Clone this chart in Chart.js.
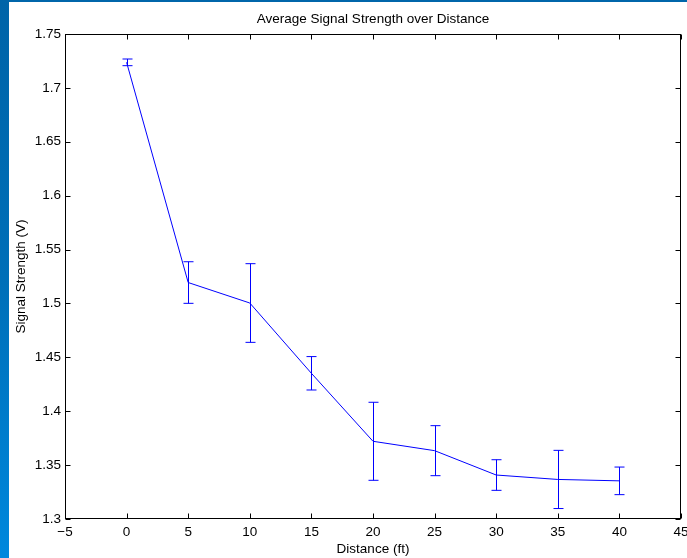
<!DOCTYPE html>
<html>
<head>
<meta charset="utf-8">
<title>Average Signal Strength over Distance</title>
<script src="https://cdn.jsdelivr.net/npm/chart.js@4.4.1/dist/chart.umd.min.js"></script>
<style>
    html, body { margin: 0; padding: 0; background: #fff; overflow: hidden; }
    #wrap { position: absolute; left: 0; top: 0; width: 687px; height: 558px; }
    #edgeTop { position: absolute; left: 0; top: 0; width: 687px; height: 2px; background: #0066aa; }
    #edgeLeft { position: absolute; left: 0; top: 0; width: 9px; height: 558px;
                background: linear-gradient(to bottom, #0064a8, #006fb8 50%, #0088dd); }
</style>
</head>
<body>
<div id="wrap"><canvas id="signalChart"></canvas></div>
<div id="edgeTop"></div>
<div id="edgeLeft"></div>
<script>
const distances = [0, 5, 10, 15, 20, 25, 30, 35, 40];
const signalMeans = [1.7237, 1.5194, 1.5004, 1.4352, 1.3721, 1.3634, 1.3408, 1.3367, 1.3354];
const signalErrors = [0.0031, 0.0193, 0.0365, 0.0155, 0.0362, 0.0232, 0.0142, 0.0270, 0.0128];
const chartTitle = 'Average Signal Strength over Distance';

const lineColor = '#0000ff';
const fontFamily = '"Liberation Sans", Arial, Helvetica, sans-serif';

Chart.defaults.color = '#000';
Chart.defaults.font.family = fontFamily;
Chart.defaults.font.size = 13.5;

// vertical error bars with small caps at each point
const errorBars = {
    id: 'errorBars',
    afterDatasetsDraw(chart) {
        const ctx = chart.ctx;
        const xs = chart.scales.x, ys = chart.scales.y;
        ctx.save();
        ctx.strokeStyle = lineColor;
        ctx.lineWidth = 1;
        distances.forEach((d, i) => {
            const x = Math.round(xs.getPixelForValue(d)) + 0.5;
            const top = ys.getPixelForValue(signalMeans[i] + signalErrors[i]);
            const bot = ys.getPixelForValue(signalMeans[i] - signalErrors[i]);
            ctx.beginPath();
            ctx.moveTo(x, top); ctx.lineTo(x, bot);
            ctx.moveTo(x - 5, top); ctx.lineTo(x + 5, top);
            ctx.moveTo(x - 5, bot); ctx.lineTo(x + 5, bot);
            ctx.stroke();
        });
        ctx.restore();
    }
};

// box around the plot with ticks pointing inward on all four sides,
// plus the title centred over the plot area
const axesBox = {
    id: 'axesBox',
    afterDraw(chart) {
        const ctx = chart.ctx;
        const a = chart.chartArea;
        const L = Math.round(a.left) + 0.5, R = Math.round(a.right) - 0.5;
        const T = Math.round(a.top) + 0.5, B = Math.round(a.bottom) - 0.5;
        const tick = 5;
        ctx.save();
        ctx.strokeStyle = '#000';
        ctx.lineWidth = 1;
        ctx.strokeRect(L, T, R - L, B - T);
        ctx.beginPath();
        chart.scales.x.ticks.forEach(t => {
            const px = Math.round(chart.scales.x.getPixelForValue(t.value)) + 0.5;
            ctx.moveTo(px, B); ctx.lineTo(px, B - tick);
            ctx.moveTo(px, T); ctx.lineTo(px, T + tick);
        });
        chart.scales.y.ticks.forEach(t => {
            const py = Math.round(chart.scales.y.getPixelForValue(t.value)) + 0.5;
            ctx.moveTo(L, py); ctx.lineTo(L + tick, py);
            ctx.moveTo(R, py); ctx.lineTo(R - tick, py);
        });
        ctx.stroke();

        ctx.fillStyle = '#000';
        ctx.font = '13.5px ' + fontFamily;
        ctx.textAlign = 'center';
        ctx.textBaseline = 'middle';
        ctx.fillText(chartTitle, (a.left + a.right) / 2, 19);
        ctx.restore();
    }
};

const ctx = document.getElementById('signalChart').getContext('2d');
new Chart(ctx, {
    type: 'line',
    data: {
        datasets: [{
            label: 'Signal Strength',
            data: distances.map((d, i) => ({ x: d, y: signalMeans[i] })),
            borderColor: lineColor,
            borderWidth: 1,
            pointRadius: 0,
            fill: false,
            tension: 0
        }]
    },
    options: {
        responsive: true,
        maintainAspectRatio: false,
        animation: false,
        layout: { padding: { left: 0, right: 6, top: 34, bottom: 0 } },
        plugins: {
            legend: { display: false },
            tooltip: { enabled: false },
            title: { display: false }
        },
        scales: {
            x: {
                type: 'linear',
                min: -5,
                max: 45,
                grid: { display: false, drawTicks: false },
                border: { display: false },
                ticks: {
                    stepSize: 5,
                    padding: 5.6,
                    maxRotation: 0,
                    callback: v => String(v).replace('-', '\u2212')
                },
                title: {
                    display: true,
                    text: 'Distance (ft)',
                    padding: { top: 0, bottom: 1 }
                },
                afterFit(scale) {
                    scale.height = 39;
                    scale.paddingLeft = 0;
                    scale.paddingRight = 0;
                }
            },
            y: {
                min: 1.3,
                max: 1.75,
                grid: { display: false, drawTicks: false },
                border: { display: false },
                ticks: {
                    stepSize: 0.05,
                    padding: 4,
                    callback: v => String(+v.toFixed(2))
                },
                title: {
                    display: true,
                    text: 'Signal Strength (V)',
                    padding: { top: 13.5, bottom: 0 }
                },
                afterFit(scale) {
                    scale.width = 65;
                    scale.paddingTop = 0;
                    scale.paddingBottom = 0;
                }
            }
        }
    },
    plugins: [errorBars, axesBox]
});
</script>
</body>
</html>
